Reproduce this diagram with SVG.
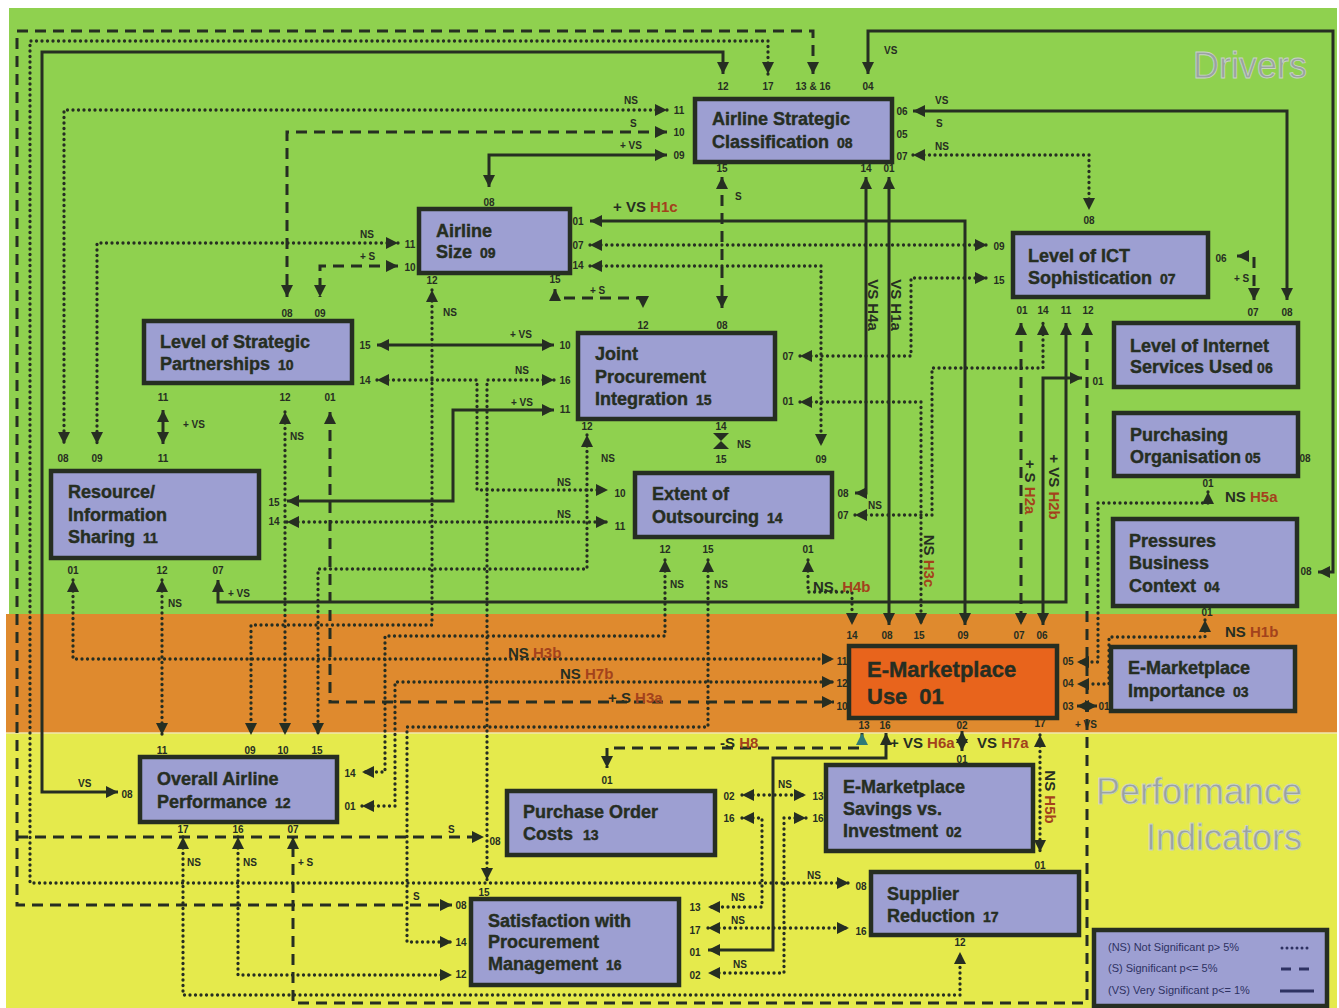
<svg xmlns="http://www.w3.org/2000/svg" width="1339" height="1008" viewBox="0 0 1339 1008">
<style>
.t{font-family:"Liberation Sans",Arial,sans-serif;font-weight:bold;fill:#262e22;stroke:#262e22;stroke-width:0.4}
.nt{font-size:18px}
.nn{font-size:14px}
.p{font-family:"Liberation Sans",Arial,sans-serif;font-weight:bold;fill:#262e22;font-size:10px;text-anchor:middle}
.l{font-family:"Liberation Sans",Arial,sans-serif;font-weight:bold;fill:#262e22;font-size:10px}
.b{font-family:"Liberation Sans",Arial,sans-serif;font-weight:bold;fill:#262e22;font-size:15px}
.h{fill:#a3421c}
.box{fill:#9d9fd2;stroke:#262e22;stroke-width:4.5}
#connectors path{fill:none;stroke:#262e22;stroke-width:3;marker-start:url(#a);marker-end:url(#a)}
#connectors path.s{stroke-dasharray:11 7}
#connectors path.ns{stroke-dasharray:0 5.5;stroke-linecap:round;stroke-width:3.3}
.big{font-family:"Liberation Sans",Arial,sans-serif;font-size:36px;fill:#9aa2a2;stroke:#c9d2c6;stroke-width:0.8}
.lg{font-family:"Liberation Sans",Arial,sans-serif;font-size:11px;fill:#2e3262}
</style>
<defs>
<marker id="a" viewBox="0 0 10 10" refX="10" refY="5" markerWidth="12" markerHeight="12" markerUnits="userSpaceOnUse" orient="auto-start-reverse"><path d="M0,0 L10,5 L0,10 z" fill="#262e22"/></marker>
<marker id="at" viewBox="0 0 10 10" refX="10" refY="5" markerWidth="12" markerHeight="12" markerUnits="userSpaceOnUse" orient="auto-start-reverse"><path d="M0,0 L10,5 L0,10 z" fill="#2f7a78"/></marker>
</defs>
<rect width="1339" height="1008" fill="#ffffff"/>
<rect x="9" y="8" width="1328" height="606" fill="#8fd14f"/>
<rect x="6" y="614" width="1331" height="119" fill="#df8a2e"/>
<rect x="6" y="733" width="1331" height="275" fill="#e5ea4c"/>
<line x1="6" y1="733" x2="1337" y2="733" stroke="#f1e6b0" stroke-width="1.5"/>
<text class="big" x="1193" y="78">Drivers</text>
<text class="big" x="1302" y="804" text-anchor="end">Performance</text>
<text class="big" x="1302" y="850" text-anchor="end">Indicators</text>

<g id="connectors">
<!-- VS solid -->
<path d="M118,792 H42 V52 H723 V74"/>
<path d="M868,74 V31 H1333 V572 H1318"/>
<path d="M667,155 H489 V187"/>
<path d="M913,111 H1287 V300"/>
<path d="M866,177 V493 H855"/>
<path d="M889,177 V625"/>
<path d="M590,221 H965 V625"/>
<path d="M377,345 H554"/>
<path d="M554,410 H453 V501 H287"/>
<path d="M1066,323 V602 H218 V580"/>
<path d="M1082,378 H1043 V625"/>
<path d="M163,410 V444"/>
<path d="M1077,706 H1097"/>
<path d="M886,733 V758 H773 V950 H708"/>
<path d="M962,731 V751"/>
<!-- S dashed -->
<path class="s" d="M813,74 V31 H17 V905 H452"/>
<path class="s" d="M17,837 H484" style="marker-start:none"/>
<path class="s" d="M667,132 H287 V297"/>
<path class="s" d="M722,177 V308"/>
<path class="s" d="M555,289 V298 H643 V308"/>
<path class="s" d="M398,266 H320 V297"/>
<path class="s" d="M1237,256 H1254 V300"/>
<path class="s" d="M1021,323 V625"/>
<path class="s" d="M1087,323 V1003 H293 V837"/>
<path class="s" d="M330,412 V702 H834"/>
<path class="s" d="M862,733 V748 H607 V768" style="marker-start:url(#at)"/>
<!-- NS dotted -->
<path class="ns" d="M768,74 V41 H30 V883 H849"/>
<path class="ns" d="M667,110 H64 V444"/>
<path class="ns" d="M913,155 H1089 V210"/>
<path class="ns" d="M590,245 H987"/>
<path class="ns" d="M590,266 H821 V446"/>
<path class="ns" d="M398,243 H97 V444"/>
<path class="ns" d="M432,290 V625 H251 V735"/>
<path class="ns" d="M800,356 H911 V278 H987"/>
<path class="ns" d="M800,402 H921 V625"/>
<path class="ns" d="M855,515 H932 V368 H1043 V323"/>
<path class="ns" d="M1208,492 V503 H1098 V662 H1077"/>
<path class="ns" d="M1205,620 V637 H1109 V684 H1077"/>
<path class="ns" d="M377,380 H477 V490 H608"/>
<path class="ns" d="M554,380 H487 V880"/>
<path class="ns" d="M287,522 H608"/>
<path class="ns" d="M587,435 V569 H318 V735"/>
<path class="ns" d="M285,412 V735"/>
<path class="ns" d="M73,580 V659 H834"/>
<path class="ns" d="M162,580 V735"/>
<path class="ns" d="M665,560 V636 H385 V772 H362"/>
<path class="ns" d="M708,560 V727 H407 V942 H452"/>
<path class="ns" d="M808,560 V592 H852 V625"/>
<path class="ns" d="M362,806 H395 V682 H834"/>
<path class="ns" d="M238,837 V975 H452"/>
<path class="ns" d="M183,837 V995 H960 V952"/>
<path class="ns" d="M1040,735 V852"/>
<path class="ns" d="M742,795 H806"/>
<path class="ns" d="M742,818 H762 V907 H708"/>
<path class="ns" d="M806,818 H784 V973 H708"/>
<path class="ns" d="M708,928 H849"/>
<polygon points="713,433 729,433 721,441" fill="#262e22"/>
<polygon points="713,449 729,449 721,441" fill="#262e22"/>
</g>

<g id="node-asc"><rect class="box" x="695" y="99" width="197" height="63"/><text class="t nt" x="712" y="125">Airline Strategic</text><text class="t nt" x="712" y="148">Classification<tspan class="nn" dx="8">08</tspan></text></g>
<g id="node-size"><rect class="box" x="419" y="209" width="151" height="64"/><text class="t nt" x="436" y="237">Airline</text><text class="t nt" x="436" y="258">Size<tspan class="nn" dx="8">09</tspan></text></g>
<g id="node-ict"><rect class="box" x="1013" y="233" width="195" height="64"/><text class="t nt" x="1028" y="262">Level of ICT</text><text class="t nt" x="1028" y="284">Sophistication<tspan class="nn" dx="8">07</tspan></text></g>
<g id="node-lsp"><rect class="box" x="144" y="321" width="208" height="62"/><text class="t nt" x="160" y="348">Level of Strategic</text><text class="t nt" x="160" y="370">Partnerships<tspan class="nn" dx="8">10</tspan></text></g>
<g id="node-jpi"><rect class="box" x="578" y="333" width="197" height="86"/><text class="t nt" x="595" y="360">Joint</text><text class="t nt" x="595" y="383">Procurement</text><text class="t nt" x="595" y="405">Integration<tspan class="nn" dx="8">15</tspan></text></g>
<g id="node-isu"><rect class="box" x="1114" y="323" width="184" height="64"/><text class="t nt" x="1130" y="352">Level of Internet</text><text class="t nt" x="1130" y="373">Services Used<tspan class="nn" dx="4">06</tspan></text></g>
<g id="node-po"><rect class="box" x="1114" y="413" width="184" height="63"/><text class="t nt" x="1130" y="441">Purchasing</text><text class="t nt" x="1130" y="463">Organisation<tspan class="nn" dx="4">05</tspan></text></g>
<g id="node-ris"><rect class="box" x="51" y="471" width="208" height="87"/><text class="t nt" x="68" y="498">Resource/</text><text class="t nt" x="68" y="521">Information</text><text class="t nt" x="68" y="543">Sharing<tspan class="nn" dx="8">11</tspan></text></g>
<g id="node-eo"><rect class="box" x="635" y="473" width="197" height="64"/><text class="t nt" x="652" y="500">Extent of</text><text class="t nt" x="652" y="523">Outsourcing<tspan class="nn" dx="8">14</tspan></text></g>
<g id="node-pbc"><rect class="box" x="1113" y="519" width="184" height="87"/><text class="t nt" x="1129" y="547">Pressures</text><text class="t nt" x="1129" y="569">Business</text><text class="t nt" x="1129" y="592">Context<tspan class="nn" dx="8">04</tspan></text></g>
<g id="node-emu"><rect x="849" y="646" width="208" height="72" fill="#e8641c" stroke="#262e22" stroke-width="4.5"/><text class="t" font-size="22" x="867" y="677">E-Marketplace</text><text class="t" font-size="22" x="867" y="704">Use<tspan dx="12">01</tspan></text></g>
<g id="node-emi"><rect class="box" x="1111" y="647" width="184" height="64"/><text class="t nt" x="1128" y="674">E-Marketplace</text><text class="t nt" x="1128" y="697">Importance<tspan class="nn" dx="8">03</tspan></text></g>
<g id="node-oap"><rect class="box" x="140" y="757" width="197" height="65"/><text class="t nt" x="157" y="785">Overall Airline</text><text class="t nt" x="157" y="808">Performance<tspan class="nn" dx="8">12</tspan></text></g>
<g id="node-poc"><rect class="box" x="507" y="791" width="208" height="64"/><text class="t nt" x="523" y="818">Purchase Order</text><text class="t nt" x="523" y="840">Costs<tspan class="nn" dx="10">13</tspan></text></g>
<g id="node-emsi"><rect class="box" x="826" y="765" width="207" height="86"/><text class="t nt" x="843" y="793">E-Marketplace</text><text class="t nt" x="843" y="815">Savings vs.</text><text class="t nt" x="843" y="837">Investment<tspan class="nn" dx="8">02</tspan></text></g>
<g id="node-sr"><rect class="box" x="871" y="872" width="208" height="63"/><text class="t nt" x="887" y="900">Supplier</text><text class="t nt" x="887" y="922">Reduction<tspan class="nn" dx="8">17</tspan></text></g>
<g id="node-spm"><rect class="box" x="471" y="899" width="208" height="86"/><text class="t nt" x="488" y="927">Satisfaction with</text><text class="t nt" x="488" y="948">Procurement</text><text class="t nt" x="488" y="970">Management<tspan class="nn" dx="8">16</tspan></text></g>

<g id="legend">
<rect class="box" x="1094" y="930" width="233" height="76" stroke-width="3"/>
<text class="lg" x="1108" y="951">(NS) Not Significant p&gt; 5%</text>
<text class="lg" x="1108" y="972">(S) Significant p&lt;= 5%</text>
<text class="lg" x="1108" y="994">(VS) Very Significant p&lt;= 1%</text>
<line x1="1282" y1="948" x2="1312" y2="948" stroke="#2e3262" stroke-width="3" stroke-dasharray="0 5" stroke-linecap="round"/>
<line x1="1281" y1="969" x2="1313" y2="969" stroke="#2e3262" stroke-width="3" stroke-dasharray="10 8"/>
<line x1="1280" y1="991" x2="1314" y2="991" stroke="#2e3262" stroke-width="3"/>
</g>

<g id="port-labels">
<text class="p" x="723" y="90">12</text><text class="p" x="768" y="90">17</text><text class="p" x="813" y="90">13 &amp; 16</text><text class="p" x="868" y="90">04</text>
<text class="p" x="679" y="114">11</text><text class="p" x="679" y="136">10</text><text class="p" x="679" y="159">09</text>
<text class="p" x="902" y="115">06</text><text class="p" x="902" y="138">05</text><text class="p" x="902" y="160">07</text>
<text class="p" x="722" y="172">15</text><text class="p" x="866" y="172">14</text><text class="p" x="889" y="172">01</text>
<text class="p" x="489" y="206">08</text><text class="p" x="410" y="248">11</text><text class="p" x="410" y="271">10</text>
<text class="p" x="578" y="225">01</text><text class="p" x="578" y="249">07</text><text class="p" x="578" y="269">14</text>
<text class="p" x="432" y="284">12</text><text class="p" x="555" y="283">15</text>
<text class="p" x="1089" y="224">08</text><text class="p" x="999" y="250">09</text><text class="p" x="999" y="284">15</text><text class="p" x="1221" y="262">06</text>
<text class="p" x="1022" y="314">01</text><text class="p" x="1043" y="314">14</text><text class="p" x="1066" y="314">11</text><text class="p" x="1088" y="314">12</text>
<text class="p" x="1253" y="316">07</text><text class="p" x="1287" y="316">08</text><text class="p" x="1098" y="385">01</text>
<text class="p" x="1305" y="462">08</text><text class="p" x="1208" y="487">01</text>
<text class="p" x="1306" y="575">08</text><text class="p" x="1207" y="616">01</text>
<text class="p" x="287" y="317">08</text><text class="p" x="320" y="317">09</text>
<text class="p" x="365" y="349">15</text><text class="p" x="365" y="384">14</text>
<text class="p" x="163" y="401">11</text><text class="p" x="285" y="401">12</text><text class="p" x="330" y="401">01</text>
<text class="p" x="643" y="329">12</text><text class="p" x="722" y="329">08</text>
<text class="p" x="565" y="349">10</text><text class="p" x="565" y="384">16</text><text class="p" x="565" y="413">11</text>
<text class="p" x="788" y="360">07</text><text class="p" x="788" y="405">01</text>
<text class="p" x="587" y="430">12</text><text class="p" x="721" y="430">14</text>
<text class="p" x="63" y="462">08</text><text class="p" x="97" y="462">09</text><text class="p" x="163" y="462">11</text>
<text class="p" x="274" y="506">15</text><text class="p" x="274" y="525">14</text>
<text class="p" x="73" y="574">01</text><text class="p" x="162" y="574">12</text><text class="p" x="218" y="574">07</text>
<text class="p" x="721" y="463">15</text><text class="p" x="821" y="463">09</text>
<text class="p" x="620" y="497">10</text><text class="p" x="620" y="530">11</text>
<text class="p" x="843" y="497">08</text><text class="p" x="843" y="519">07</text>
<text class="p" x="665" y="553">12</text><text class="p" x="708" y="553">15</text><text class="p" x="808" y="553">01</text>
<text class="p" x="852" y="639">14</text><text class="p" x="887" y="639">08</text><text class="p" x="919" y="639">15</text><text class="p" x="963" y="639">09</text><text class="p" x="1019" y="639">07</text><text class="p" x="1042" y="639">06</text>
<text class="p" x="842" y="665">11</text><text class="p" x="842" y="687">12</text><text class="p" x="842" y="710">10</text>
<text class="p" x="1068" y="665">05</text><text class="p" x="1068" y="687">04</text><text class="p" x="1068" y="710">03</text>
<text class="p" x="864" y="729">13</text><text class="p" x="885" y="729">16</text><text class="p" x="962" y="729">02</text><text class="p" x="1040" y="727">17</text>
<text class="p" x="1104" y="710">01</text>
<text class="p" x="162" y="754">11</text><text class="p" x="250" y="754">09</text><text class="p" x="283" y="754">10</text><text class="p" x="317" y="754">15</text>
<text class="p" x="127" y="798">08</text><text class="p" x="350" y="777">14</text><text class="p" x="350" y="810">01</text>
<text class="p" x="183" y="833">17</text><text class="p" x="238" y="833">16</text><text class="p" x="293" y="833">07</text>
<text class="p" x="607" y="784">01</text><text class="p" x="495" y="845">08</text><text class="p" x="729" y="800">02</text><text class="p" x="729" y="822">16</text>
<text class="p" x="962" y="763">01</text><text class="p" x="818" y="800">13</text><text class="p" x="818" y="822">16</text>
<text class="p" x="1040" y="869">01</text><text class="p" x="861" y="890">08</text><text class="p" x="861" y="935">16</text><text class="p" x="960" y="946">12</text>
<text class="p" x="484" y="896">15</text><text class="p" x="461" y="909">08</text><text class="p" x="461" y="946">14</text><text class="p" x="461" y="978">12</text>
<text class="p" x="695" y="911">13</text><text class="p" x="695" y="934">17</text><text class="p" x="695" y="956">01</text><text class="p" x="695" y="979">02</text>
</g>

<g id="sig-labels">
<text class="l" x="624" y="104">NS</text><text class="l" x="630" y="127">S</text><text class="l" x="620" y="149">+ VS</text>
<text class="l" x="935" y="104">VS</text><text class="l" x="936" y="127">S</text><text class="l" x="935" y="150">NS</text>
<text class="l" x="884" y="54">VS</text><text class="l" x="735" y="200">S</text>
<text class="l" x="360" y="238">NS</text><text class="l" x="360" y="260">+ S</text>
<text class="l" x="443" y="316">NS</text><text class="l" x="590" y="294">+ S</text><text class="l" x="1234" y="282">+ S</text>
<text class="l" x="510" y="338">+ VS</text><text class="l" x="515" y="374">NS</text><text class="l" x="511" y="406">+ VS</text>
<text class="l" x="601" y="462">NS</text><text class="l" x="557" y="486">NS</text><text class="l" x="557" y="518">NS</text>
<text class="l" x="737" y="448">NS</text><text class="l" x="868" y="509">NS</text>
<text class="l" x="670" y="588">NS</text><text class="l" x="714" y="588">NS</text>
<text class="l" x="183" y="428">+ VS</text><text class="l" x="290" y="440">NS</text>
<text class="l" x="168" y="607">NS</text><text class="l" x="228" y="597">+ VS</text>
<text class="l" x="78" y="787">VS</text>
<text class="l" x="187" y="866">NS</text><text class="l" x="243" y="866">NS</text><text class="l" x="298" y="866">+ S</text>
<text class="l" x="448" y="833">S</text><text class="l" x="413" y="900">S</text>
<text class="l" x="807" y="879">NS</text><text class="l" x="778" y="788">NS</text>
<text class="l" x="731" y="901">NS</text><text class="l" x="731" y="924">NS</text><text class="l" x="733" y="968">NS</text>
<text class="l" x="1075" y="728">+ VS</text>
<text class="b" x="613" y="212">+ VS <tspan class="h">H1c</tspan></text>
<text class="b" x="1225" y="502">NS <tspan class="h">H5a</tspan></text>
<text class="b" x="1225" y="637">NS <tspan class="h">H1b</tspan></text>
<text class="b" x="813" y="592">NS. <tspan class="h">H4b</tspan></text>
<text class="b" x="508" y="658">NS <tspan class="h">H3b</tspan></text>
<text class="b" x="560" y="679">NS <tspan class="h">H7b</tspan></text>
<text class="b" x="608" y="703">+ S <tspan class="h">H3a</tspan></text>
<text class="b" x="720" y="748">-S <tspan class="h">H8</tspan></text>
<text class="b" x="890" y="748">+ VS <tspan class="h">H6a</tspan></text>
<text class="b" x="977" y="748">VS <tspan class="h">H7a</tspan></text>
<text class="b" text-anchor="middle" transform="translate(868,305) rotate(90)">VS H4a</text>
<text class="b" text-anchor="middle" transform="translate(891,305) rotate(90)">VS H1a</text>
<text class="b" text-anchor="middle" transform="translate(924,561) rotate(90)">NS <tspan class="h">H3c</tspan></text>
<text class="b" text-anchor="middle" transform="translate(1025,487) rotate(90)">+ S <tspan class="h">H2a</tspan></text>
<text class="b" text-anchor="middle" transform="translate(1049,487) rotate(90)">+ VS <tspan class="h">H2b</tspan></text>
<text class="b" text-anchor="middle" transform="translate(1045,797) rotate(90)">NS <tspan class="h">H5b</tspan></text>
</g>
</svg>
